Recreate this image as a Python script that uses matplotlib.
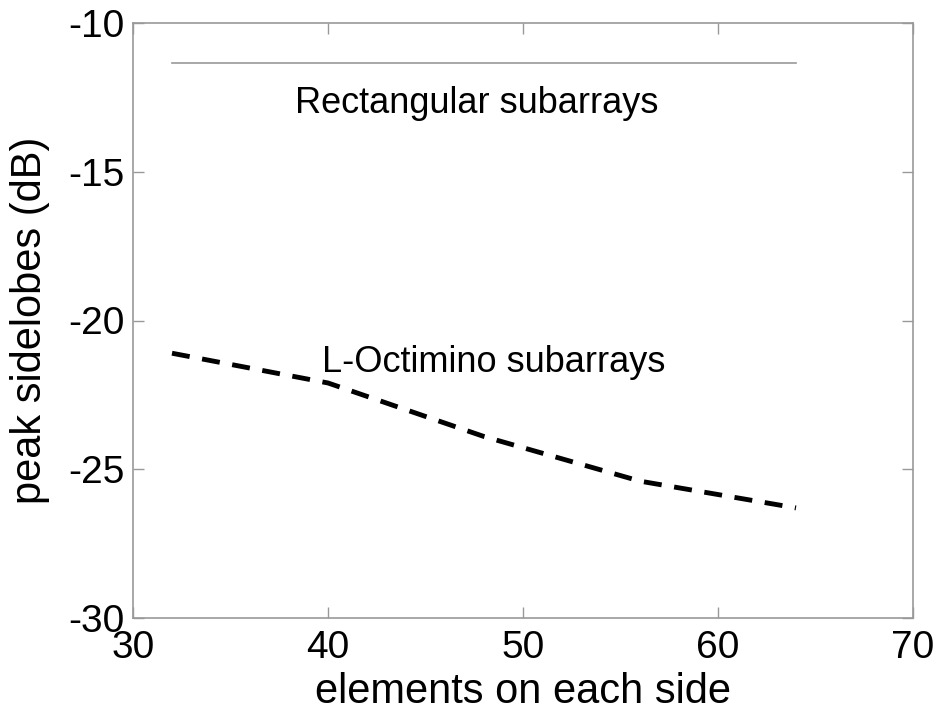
import matplotlib
matplotlib.use("Agg")
import matplotlib.pyplot as plt

plt.rcParams['font.family'] = ['Liberation Sans', 'DejaVu Sans']
plt.rcParams['axes.unicode_minus'] = False

# Data
rect_x = [32, 64]
rect_y = [-11.35, -11.35]
oct_x = [32, 40, 48, 56, 64]
oct_y = [-21.1, -22.1, -23.9, -25.4, -26.3]
x_ticks = [30, 40, 50, 60, 70]
y_ticks = [-30, -25, -20, -15, -10]

fig = plt.figure(figsize=(9.43, 7.19), dpi=100)
ax = fig.add_axes([133/943, 1 - 618/719, 780/943, 595/719])

ax.plot(rect_x, rect_y, color='#999999', lw=1.2)
ax.plot(oct_x, oct_y, color='black', lw=3.5, linestyle=(0, (3.7, 2.6)), dash_capstyle='butt')

ax.text(38.3, -12.7, 'Rectangular subarrays', fontsize=26, va='center', ha='left')
ax.text(39.7, -21.4, 'L-Octimino subarrays', fontsize=26, va='center', ha='left')

ax.set_xlim(30, 70)
ax.set_ylim(-30, -10)
ax.set_xticks(x_ticks)
ax.set_yticks(y_ticks)
ax.tick_params(direction='in', length=8, width=1, color='#999999', labelsize=28,
               top=True, right=True)
ax.tick_params(axis='x', pad=9)
ax.tick_params(axis='y', pad=6)
for s in ax.spines.values():
    s.set_color('#999999')
    s.set_linewidth(1.2)

ax.set_xlabel('elements on each side', fontsize=30, labelpad=4)
ax.set_ylabel('peak sidelobes (dB)', fontsize=30, labelpad=13)

fig.savefig('out.png', dpi=100)
